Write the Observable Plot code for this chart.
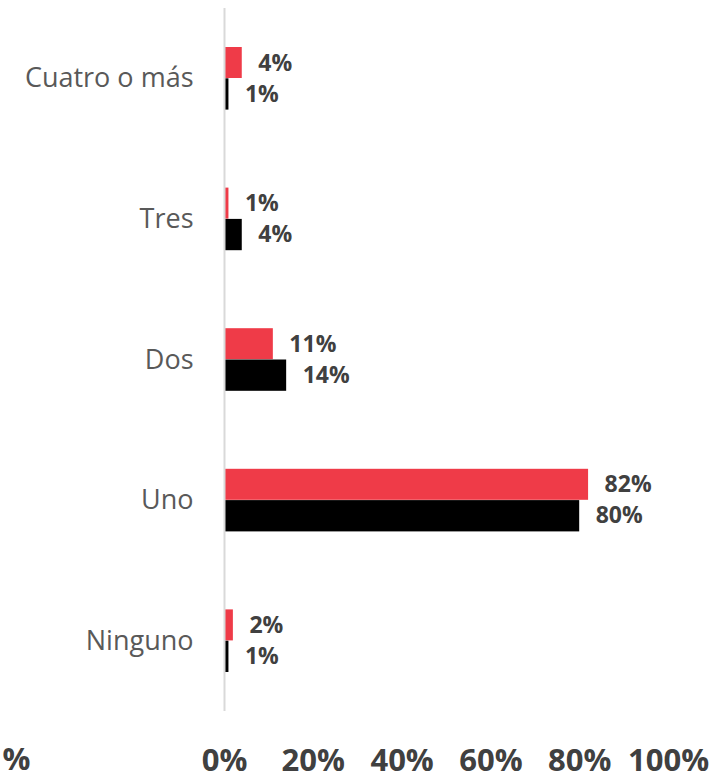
<!DOCTYPE html>
<html>
<head>
<meta charset="utf-8">
<script src="https://cdn.jsdelivr.net/npm/d3@7"></script>
<script src="https://cdn.jsdelivr.net/npm/@observablehq/plot@0.6"></script>
<style>
  html, body { margin: 0; padding: 0; background: #fff; }
  #chart svg { display: block; }
</style>
</head>
<body>
<div id="chart"></div>
<script>
const categories = ["Cuatro o más", "Tres", "Dos", "Uno", "Ninguno"];
const redValues = [4, 1, 11, 82, 2];
const blackValues = [1, 4, 14, 80, 1];
const xTicks = [0, 20, 40, 60, 80, 100];

const red = categories.map((c, i) => ({cat: c, value: redValues[i]}));
const black = categories.map((c, i) => ({cat: c, value: blackValues[i]}));

const RED = "#EF3B48";
const font = "'Open Sans', 'DejaVu Sans', sans-serif";

const chart = Plot.plot({
  width: 723,
  height: 779,
  marginTop: 8,
  marginBottom: 68,
  marginLeft: 224,
  marginRight: 55,
  style: {fontFamily: font, background: "#fff"},
  x: {domain: [0, 100], label: null},
  y: {domain: categories, padding: 0, round: false, label: null},
  marks: [
    Plot.barX(red, {x: "value", y: "cat", fill: RED, insetTop: 39, insetBottom: 70.6}),
    Plot.barX(black, {x: "value", y: "cat", fill: "#000", insetTop: 70.3, insetBottom: 39}),
    Plot.ruleX([0], {stroke: "#d9d9d9", strokeWidth: 2}),
    Plot.text(red, {x: "value", y: "cat", text: d => d.value + "%", dx: 16, dy: -15.5, textAnchor: "start", fill: "#404040", fontSize: 23, fontWeight: "bold"}),
    Plot.text(black, {x: "value", y: "cat", text: d => d.value + "%", dx: 16, dy: 15.5, textAnchor: "start", fill: "#404040", fontSize: 23, fontWeight: "bold"}),
    Plot.axisY({tickSize: 0, tickPadding: 31, fontSize: 27, fill: "#595959", label: null}),
    Plot.axisX({ticks: xTicks, tickFormat: d => d + "%", tickSize: 0, tickPadding: 37, fontSize: 31, fontWeight: "bold", fill: "#404040", label: null}),
    Plot.text(["%"], {frameAnchor: "bottom-left", dx: -222, dy: 49, textAnchor: "start", lineAnchor: "middle", fontSize: 31, fontWeight: "bold", fill: "#404040"})
  ]
});
document.getElementById("chart").appendChild(chart);
</script>
</body>
</html>
